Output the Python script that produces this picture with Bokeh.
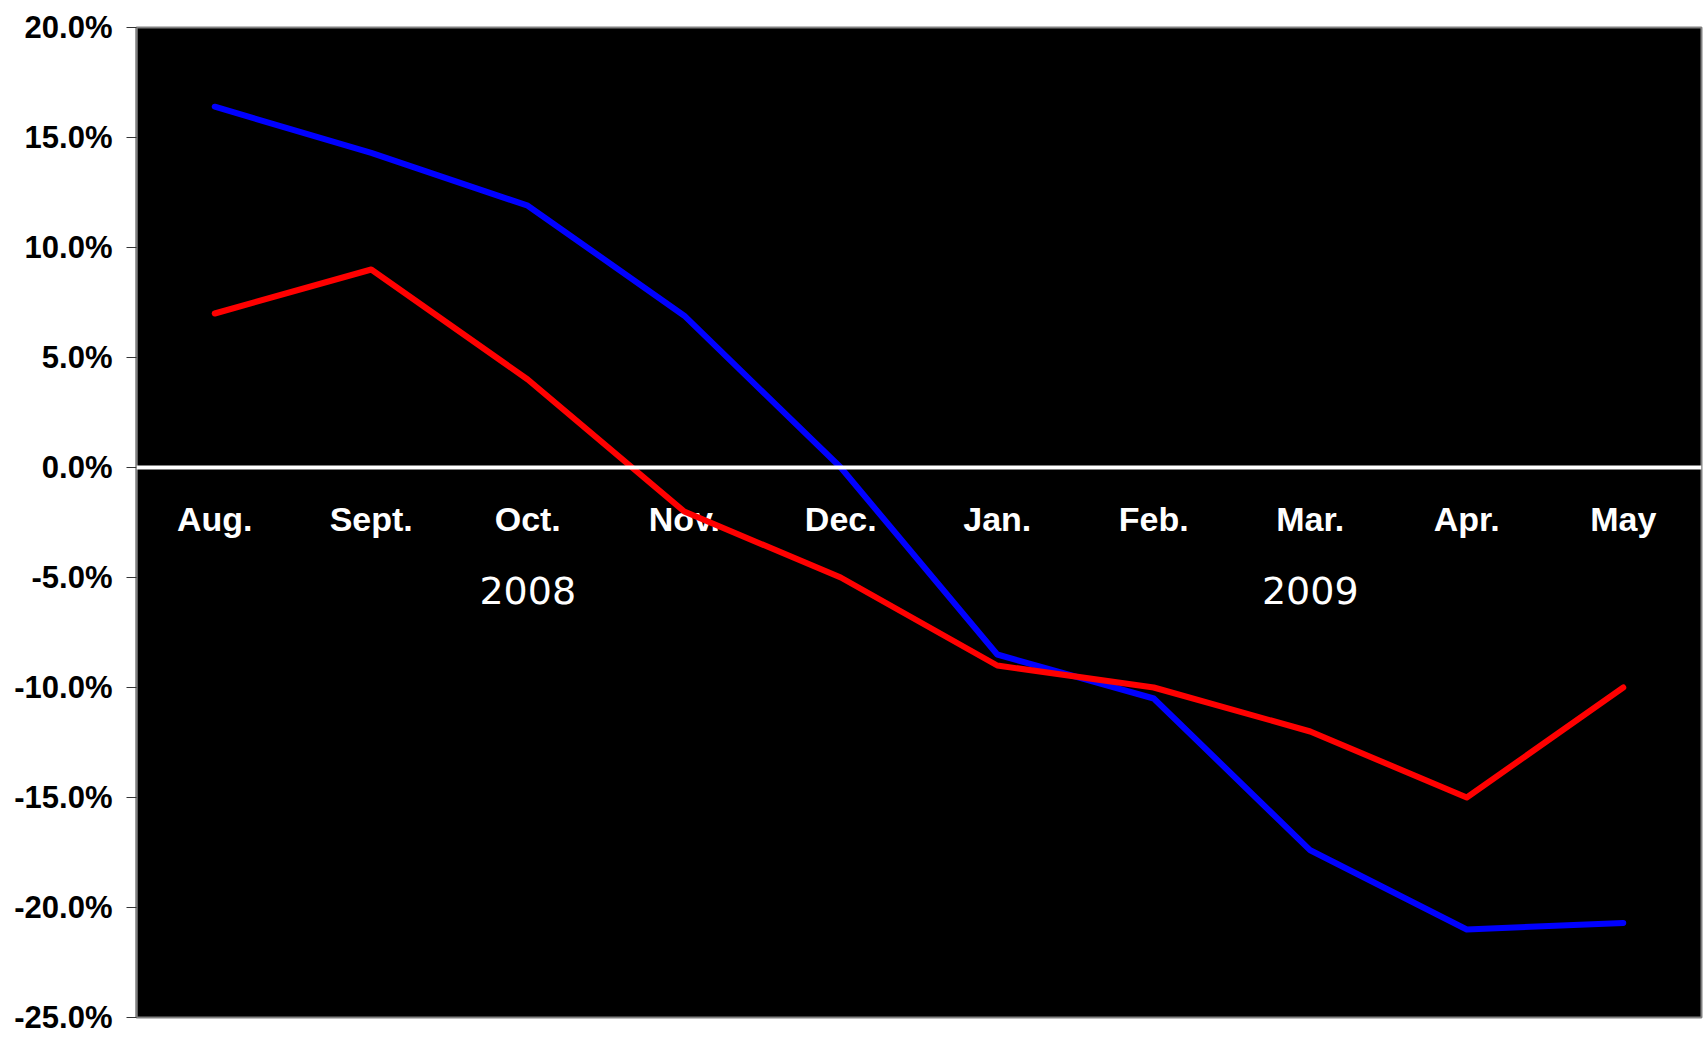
from bokeh.plotting import figure
from bokeh.models import Range1d, FixedTicker, PrintfTickFormatter, Span
from bokeh.core.properties import value
from bokeh.embed import file_html
from bokeh.resources import INLINE

months = ["Aug.", "Sept.", "Oct.", "Nov.", "Dec.", "Jan.", "Feb.", "Mar.", "Apr.", "May"]
years = ["2008", "2009"]
year_months = ["Oct.", "Mar."]
blue_series = [16.4, 14.3, 11.9, 6.9, 0.0, -8.5, -10.5, -17.4, -21.0, -20.7]
red_series = [7.0, 9.0, 4.0, -2.0, -5.0, -9.0, -10.0, -12.0, -15.0, -10.0]
y_ticks = [-25, -20, -15, -10, -5, 0, 5, 10, 15, 20]

xs = [i + 0.5 for i in range(len(months))]

p = figure(width=1705, height=1037, output_backend="svg", toolbar_location=None,
           x_range=Range1d(0, len(months)), y_range=Range1d(-25, 20),
           min_border_left=136, min_border_right=4, min_border_top=27, min_border_bottom=20,
           x_axis_location=None)
p.background_fill_color = "black"
p.border_fill_color = "white"
p.outline_line_color = "#808080"
p.outline_line_width = 2
p.xgrid.visible = False
p.ygrid.visible = False

ax = p.yaxis[0]
ax.ticker = FixedTicker(ticks=y_ticks)
ax.formatter = PrintfTickFormatter(format="%.1f%%")
ax.minor_tick_line_color = None
ax.major_tick_in = 0
ax.major_tick_out = 10
ax.major_tick_line_color = "#333333"
ax.major_tick_line_width = 1
ax.axis_line_color = "#808080"
ax.axis_line_width = 2
ax.major_label_standoff = 14
ax.major_label_text_font = "Liberation Sans"
ax.major_label_text_font_style = "bold"
ax.major_label_text_font_size = "31px"
ax.major_label_text_color = "black"

# month labels and year labels inside the plot
p.text(x=xs, y=[-2.33] * len(months), text=months, text_color="white",
       text_font=value("Liberation Sans"), text_font_style="bold", text_font_size="34px",
       text_align="center", text_baseline="alphabetic")
year_x = [xs[months.index(m)] for m in year_months]
p.text(x=year_x, y=[-5.6] * len(years), text=years, text_color="white",
       text_font=value("DejaVu Sans"), text_font_size="38px",
       text_align="center", text_baseline="alphabetic")

p.line(xs, blue_series, line_color="#0000FF", line_width=6, line_cap="round", line_join="round")
p.line(xs, red_series, line_color="#FF0000", line_width=6, line_cap="round", line_join="round")

p.add_layout(Span(location=0, dimension="width", line_color="white", line_width=4))

open("out.html", "w").write(file_html(p, INLINE))
